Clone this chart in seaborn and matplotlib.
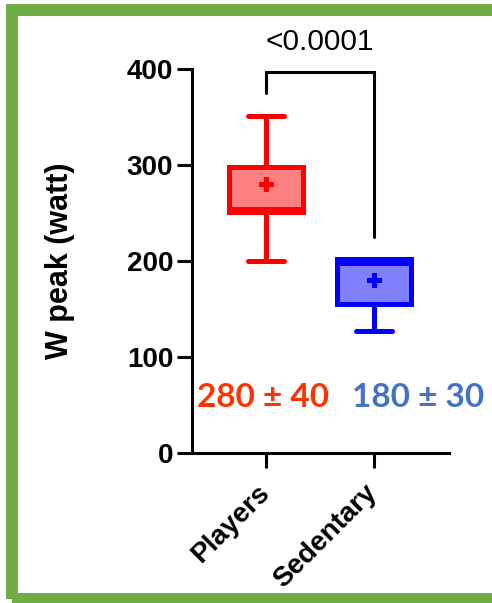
import matplotlib
matplotlib.use("Agg")
import matplotlib.pyplot as plt
from matplotlib.patches import Rectangle
from matplotlib.transforms import ScaledTranslation
import seaborn as sns
import pandas as pd

# Groups and their summary values (W peak, watt)
categories = ["Players", "Sedentary"]
players_summary = [200, 251, 254, 298, 351]     # min, Q1, median, Q3, max
sedentary_summary = [127, 155, 198, 202, 202]   # min, Q1, median, Q3, max
means = [280, 180]
sds = [40, 30]
p_value_text = "<0.0001"
y_ticks = [0, 100, 200, 300, 400]

box_faces = ["#FF8080", "#8080FF"]
box_edges = ["#FF0000", "#0000FF"]
text_colors = ["#FF3300", "#4472C4"]

sns.set_style("ticks")
plt.rcParams["font.family"] = ["Liberation Sans", "DejaVu Sans"]
for key in ["text.color", "axes.labelcolor", "xtick.color", "ytick.color",
            "axes.edgecolor"]:
    plt.rcParams[key] = "black"

W, H, DPI = 492, 603, 100
fig = plt.figure(figsize=(W / DPI, H / DPI), dpi=DPI)
ax = fig.add_axes([192 / W, 1 - 453 / H, (449 - 192) / W, (453 - 69) / H])

summaries = [players_summary, sedentary_summary]
for cat, vals, face, edge in zip(categories, summaries, box_faces, box_edges):
    df = pd.DataFrame({"group": [cat] * len(vals), "watt": vals})
    sns.boxplot(data=df, x="group", y="watt", order=categories, width=0.68,
                whis=(0, 100), color=face, linecolor=edge, linewidth=3.6,
                saturation=1, showfliers=False, ax=ax)

# Group means as filled plus markers
sns.stripplot(x=categories, y=means, hue=categories, order=categories,
              palette=box_edges, marker="P", size=10.8, jitter=False,
              linewidth=0, legend=False, zorder=6, ax=ax)

ax.set_xlim(-0.685, 1.694)
ax.set_ylim(0, 400)
ax.set_yticks(y_ticks)
ax.set_xlabel("")
ax.set_ylabel("W peak (watt)", fontsize=22, fontweight="bold", labelpad=37.5)

sns.despine(ax=ax)
for side in ["left", "bottom"]:
    ax.spines[side].set_linewidth(2.2)
    ax.spines[side].set_color("black")
ax.tick_params(axis="both", length=10.5, width=2.2, color="black", pad=3)
ax.tick_params(axis="y", labelsize=20)
for lab in ax.get_yticklabels():
    lab.set_fontweight("bold")
ax.set_xticks(range(len(categories)))
ax.set_xticklabels(categories, rotation=45, ha="right", rotation_mode="anchor",
                   fontweight="bold", fontsize=20)
shift = ScaledTranslation(-0.10, -0.08, fig.dpi_scale_trans)
for lab in ax.get_xticklabels():
    lab.set_transform(lab.get_transform() + shift)

# Significance bracket
ax.plot([0, 0, 1, 1], [375, 397, 397, 225], color="black", lw=2.2,
        clip_on=False, solid_joinstyle="miter")
ax.text(0.5, 428, p_value_text, ha="center", va="center", fontsize=21.5,
        clip_on=False)

# Mean ± SD labels
for i, (m, s, c) in enumerate(zip(means, sds, text_colors)):
    xpos = [-0.03, 1.41][i]
    ax.text(xpos, 58, f"{m} ± {s}", color=c, ha="center", va="center",
            fontsize=24, fontweight="bold", family=["Lato", "DejaVu Sans"])

# Green frame around the figure
fig.patches.append(Rectangle((12 / W, 1 - 599 / H), (495 - 12) / W, (599 - 10) / H,
                             transform=fig.transFigure, fill=False,
                             edgecolor="#70AD47", linewidth=8.6, zorder=10))

fig.savefig("out.png", dpi=DPI)
